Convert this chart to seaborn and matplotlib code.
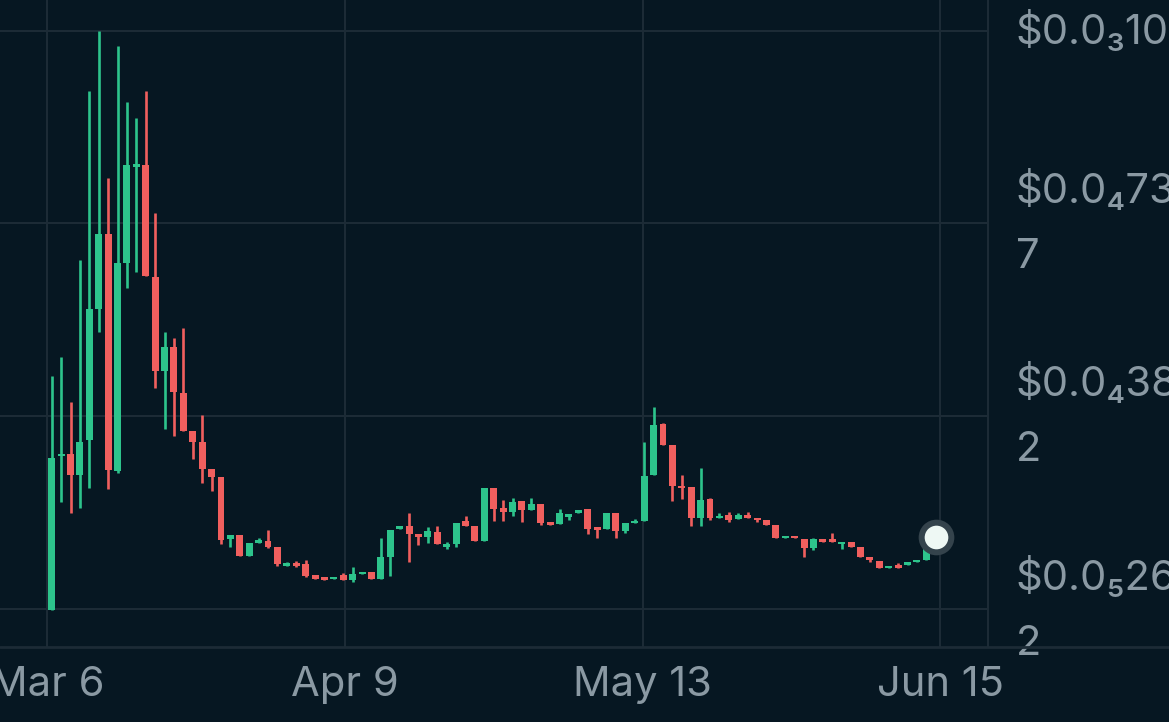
import pandas as pd
import seaborn as sns
import matplotlib.pyplot as plt
from matplotlib.lines import Line2D


# daily candles, prices in millionths of a dollar (1e-6 $)
opens = [2.6, 30.8, 31.2, 27.4, 33.7, 57.9, 71.7, 28.1, 66.3, 84.0,
         84.3, 63.8, 46.5, 50.8, 42.5, 35.4, 33.4, 28.5, 27.0, 15.6,
         16.3, 12.4, 14.9, 15.2, 14.1, 10.7, 11.1, 10.9, 8.9, 8.5,
         8.2, 8.9, 8.0, 9.1, 9.5, 8.3, 12.3, 17.4, 17.9, 16.5,
         16.0, 16.9, 14.2, 14.6, 18.9, 17.9, 15.3, 24.9, 21.2, 20.6,
         22.5, 20.9, 22.0, 18.6, 18.4, 19.7, 20.3, 21.1, 17.7, 17.4,
         20.3, 17.1, 18.5, 18.9, 27.3, 36.7, 32.9, 25.4, 25.2, 19.5,
         23.0, 19.4, 20.0, 19.2, 20.0, 19.5, 19.0, 18.2, 15.7, 16.1,
         15.5, 14.0, 15.5, 15.5, 14.6, 15.0, 14.1, 12.2, 11.6, 10.2,
         10.8, 10.8, 11.3, 11.8]
highs = [45.6, 49.0, 40.8, 66.8, 97.9, 109.0, 81.9, 106.2, 96.0, 93.0,
         97.9, 75.5, 53.6, 52.6, 54.4, 35.4, 38.3, 28.5, 27.0, 16.3,
         16.3, 14.8, 15.7, 17.3, 14.1, 11.4, 11.5, 11.8, 8.9, 8.5,
         8.6, 9.4, 10.4, 9.5, 9.5, 15.7, 17.2, 17.9, 20.3, 16.5,
         17.8, 18.0, 15.0, 18.6, 19.8, 17.9, 24.9, 24.9, 22.7, 23.1,
         22.5, 23.2, 22.0, 18.6, 21.1, 20.1, 20.9, 21.1, 17.7, 20.3,
         20.3, 18.5, 19.3, 33.5, 39.8, 36.9, 32.9, 27.3, 25.2, 28.6,
         23.2, 20.3, 20.5, 20.3, 20.6, 19.5, 19.0, 18.2, 16.1, 16.1,
         15.5, 15.7, 15.5, 16.6, 15.0, 15.0, 14.1, 12.2, 11.6, 10.7,
         11.1, 11.3, 11.8, 16.0]
lows = [2.6, 22.4, 20.4, 21.2, 25.0, 53.7, 24.8, 27.7, 61.7, 64.6,
        63.9, 43.4, 35.9, 34.6, 35.4, 30.3, 25.9, 24.4, 14.6, 14.1,
        12.4, 12.4, 14.9, 14.0, 10.7, 10.7, 10.4, 8.6, 8.3, 8.1,
        8.2, 8.1, 7.7, 9.1, 8.3, 8.3, 8.8, 17.4, 11.3, 14.5,
        14.9, 14.6, 13.8, 14.1, 17.9, 15.3, 15.3, 18.9, 18.9, 19.8,
        18.7, 20.9, 18.2, 18.2, 18.4, 19.0, 20.3, 16.5, 15.7, 17.4,
        15.7, 16.6, 18.5, 18.9, 27.3, 32.9, 22.6, 23.0, 18.0, 17.9,
        19.1, 19.4, 18.7, 19.2, 19.5, 18.7, 18.2, 15.8, 15.7, 15.7,
        12.3, 13.5, 15.1, 15.0, 13.8, 14.2, 12.3, 11.4, 10.2, 10.2,
        10.2, 10.8, 11.3, 11.8]
closes = [30.5, 31.2, 27.4, 33.5, 57.8, 71.7, 28.2, 66.3, 84.3, 84.3,
          63.9, 46.5, 50.8, 42.6, 35.4, 33.4, 28.5, 27.0, 15.4, 16.3,
          12.4, 14.8, 15.3, 14.1, 11.0, 11.2, 10.6, 8.8, 8.3, 8.1,
          8.6, 8.1, 9.1, 9.5, 8.3, 12.2, 17.2, 17.9, 16.5, 16.0,
          17.1, 14.6, 14.7, 18.6, 17.9, 15.3, 24.9, 21.1, 20.6, 22.4,
          20.9, 22.0, 18.6, 18.2, 20.3, 20.1, 20.9, 17.5, 17.2, 20.3,
          17.1, 18.5, 18.9, 27.2, 36.5, 32.9, 25.4, 24.9, 19.5, 22.7,
          19.4, 19.8, 19.1, 20.0, 19.5, 19.0, 18.2, 15.8, 16.1, 15.7,
          14.0, 15.5, 15.1, 15.0, 15.0, 14.2, 12.3, 11.8, 10.2, 10.7,
          10.2, 11.3, 11.8, 16.0]

date_labels = ['Mar 6', 'Apr 9', 'May 13', 'Jun 15']
date_ticks = [-0.5, 31.2, 62.85, 94.5]
price_ticks = [2.62, 38.2, 73.7, 109.0]
price_labels = ['$0.0\u208526\n2', '$0.0\u208438\n2', '$0.0\u208473\n7', '$0.0\u2083109']

BG = '#061722'
GREEN = '#2dc48c'
RED = '#f05f5e'
GRID = '#1c2b36'
TEXT = '#8a99a3'


df = pd.DataFrame({'open': opens, 'high': highs, 'low': lows, 'close': closes})
df['idx'] = range(len(df))
df['color'] = [GREEN if c >= o else RED for o, c in zip(df.open, df.close)]
df['body_lo'] = df[['open', 'close']].min(axis=1)
df['body_h'] = (df.close - df.open).abs().clip(lower=0.45)

sns.set_theme(style='dark', rc={'axes.facecolor': BG, 'figure.facecolor': BG,
                                'grid.color': GRID, 'grid.linewidth': 1.5})
plt.rcParams['font.family'] = ['Inter', 'DejaVu Sans']

fig = plt.figure(figsize=(11.69, 7.22), dpi=100)
ax = fig.add_axes([0, 75 / 722, 988 / 1169, 647 / 722])

ax.vlines(df.idx, df.low, df.high, colors=df.color, linewidth=1.9, zorder=3)
ax.bar(df.idx, df.body_h, bottom=df.body_lo, width=0.74, color=df.color, linewidth=0, zorder=4)

# current price marker one step after the last candle
last = pd.DataFrame({'x': [len(df)], 'y': [closes[-1]]})
sns.scatterplot(data=last, x='x', y='y', s=660, color='#34434c', linewidth=0, ax=ax, zorder=5)
sns.scatterplot(data=last, x='x', y='y', s=290, color='#eef8f4', linewidth=0, ax=ax, zorder=6)

ax.set_xlim(-5.5, 99.56)
ax.set_ylim(-4.28, 114.7)
ax.set_xlabel('')
ax.set_ylabel('')

ax.set_xticks(date_ticks, date_labels)
ax.yaxis.tick_right()
ax.set_yticks(price_ticks, price_labels)
ax.tick_params(axis='x', length=0, pad=14, labelsize=30, colors=TEXT)
ax.tick_params(axis='y', length=0, pad=20, labelsize=30, colors=TEXT)
for lab in ax.get_yticklabels():
    lab.set_linespacing(1.9)
    lab.set_verticalalignment('center')

ax.grid(True, color=GRID, linewidth=1.5)
for side in ['top', 'left', 'bottom']:
    ax.spines[side].set_visible(False)
ax.spines['right'].set_visible(True)
ax.spines['right'].set_color(GRID)
ax.spines['right'].set_linewidth(1.5)

fig.add_artist(Line2D([0, 1], [75 / 722, 75 / 722], color=GRID, linewidth=2))

fig.savefig('out.png', dpi=100, facecolor=BG)
